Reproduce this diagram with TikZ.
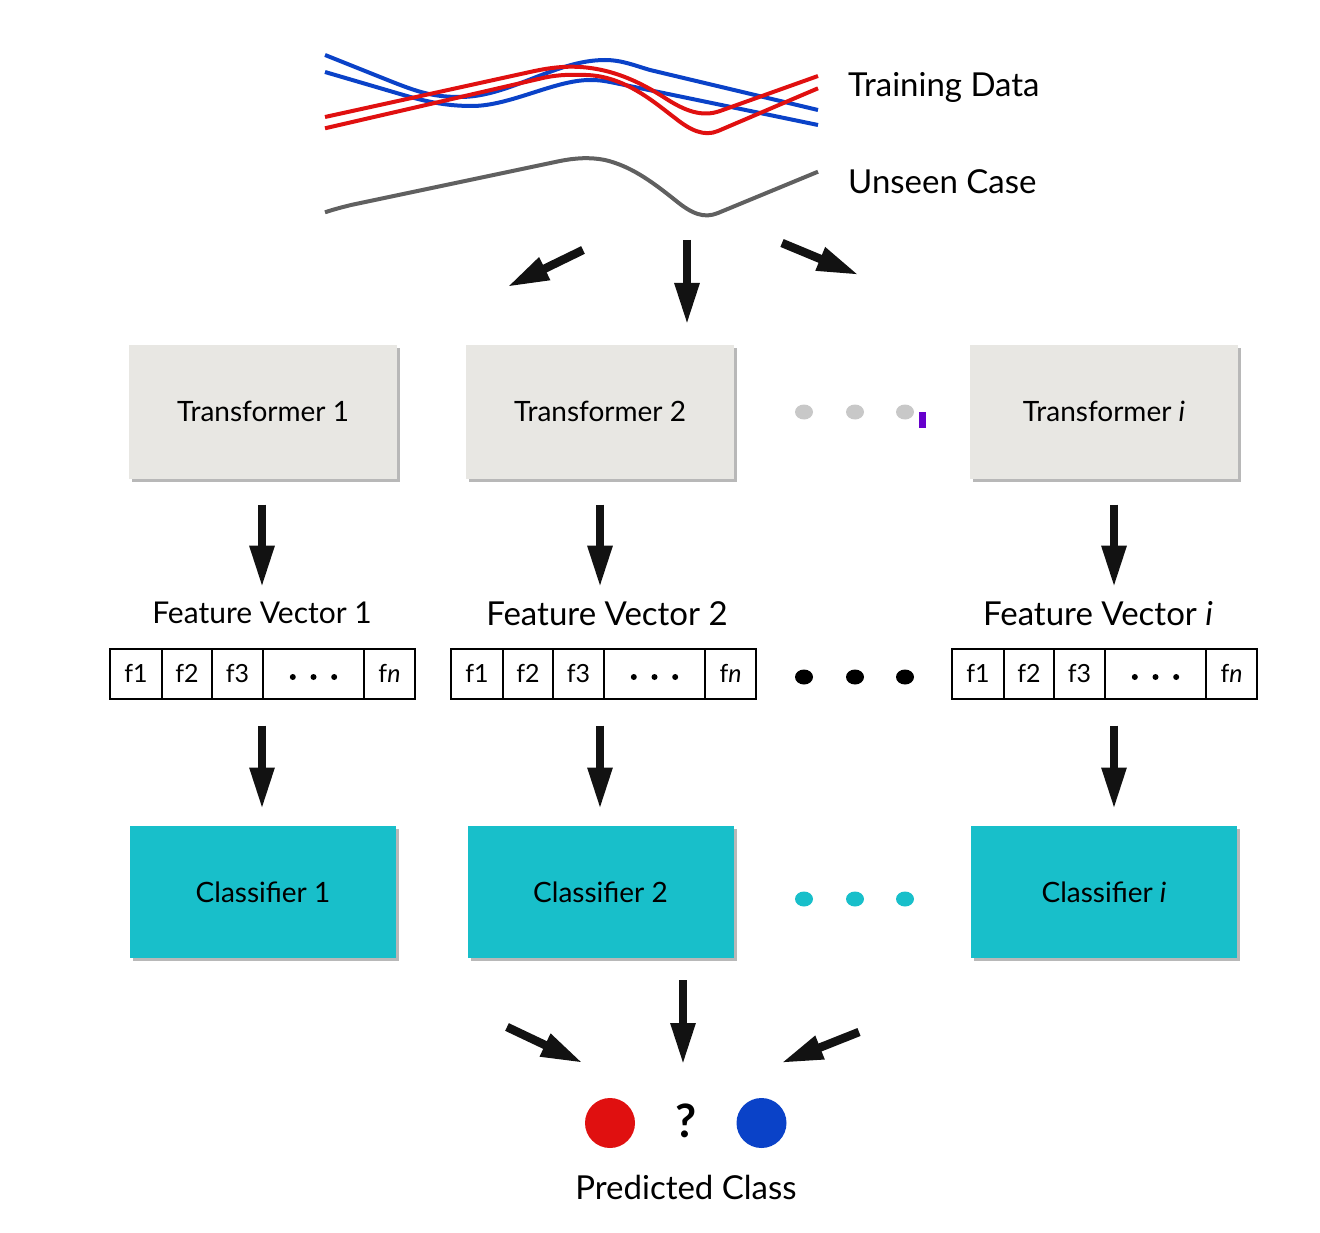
\documentclass[tikz,border=0pt]{standalone}
\usepackage{fontspec}
\setmainfont{Lato}
\usetikzlibrary{arrows.meta,shadows}
\definecolor{tgray}{HTML}{E8E7E3}
\definecolor{ccyan}{HTML}{18BFCA}
\definecolor{lred}{HTML}{E01010}
\definecolor{lblue}{HTML}{0A42C8}
\definecolor{lgray}{HTML}{606060}
\definecolor{dotgray}{HTML}{C8C8C8}
\definecolor{cursor}{HTML}{6600CC}
\newcommand\fvec[2]{%
  \node[cell, minimum width=52pt] (#1c1) at (#2+26,673.5) {f1};
  \node[cell, minimum width=50pt] (#1c2) at (#2+77,673.5) {f2};
  \node[cell, minimum width=51pt] (#1c3) at (#2+127.5,673.5) {f3};
  \node[cell, minimum width=101pt] (#1c4) at (#2+203.5,673.5) {};
  \node[cell, minimum width=51pt] (#1c5) at (#2+279.5,673.5) {f\textit{n}};
  \fill ([xshift=-20.7pt,yshift=-3.5pt]#1c4.center) circle (3pt);
  \fill ([yshift=-3.5pt]#1c4.center) circle (3pt);
  \fill ([xshift=20.7pt,yshift=-3.5pt]#1c4.center) circle (3pt);
}
\begin{document}
\begin{tikzpicture}[x=1pt,y=-1pt,
  tbox/.style={fill=tgray, minimum width=268pt, minimum height=134pt, inner sep=0pt,
    drop shadow={shadow xshift=3pt, shadow yshift=-3pt, fill=black, opacity=0.28},
    font=\fontsize{28}{32}\selectfont},
  cbox/.style={fill=ccyan, minimum width=266pt, minimum height=132pt, inner sep=0pt,
    drop shadow={shadow xshift=3pt, shadow yshift=-3pt, fill=black, opacity=0.28},
    font=\fontsize{28}{32}\selectfont},
  bigarrow/.style={line width=8.5pt, draw=black!93, -{Triangle[length=42pt,width=23pt]}},
  cell/.style={draw, line width=2pt, minimum height=50pt, inner sep=0pt, font=\fontsize{25}{28}\selectfont},
  lab/.style={inner sep=0pt, font=\fontsize{33}{38}\selectfont},
  curve/.style={line width=4pt},
]
\useasboundingbox (0,0) rectangle (1320,1233);

% training curves
\draw[curve, lblue] (325,55) -- (380,77) .. controls (415,91) and (430,97) .. (460,97)
  .. controls (510,97) and (555,60) .. (605,60) .. controls (622,60) and (636,66) .. (650,70) -- (818,110);
\draw[curve, lblue] (325,72) -- (400,94) .. controls (430,103) and (450,106) .. (472,106)
  .. controls (510,106) and (555,80) .. (590,80) .. controls (600,80) and (605,81) .. (615,83) -- (818,125);
\draw[curve, lred] (325,117) -- (530,72) .. controls (548,68) and (560,66.7) .. (572,66.7)
  .. controls (610,67) and (640,82) .. (665,98) .. controls (685,111) and (702,117.4) .. (720,111) -- (818,76);
\draw[curve, lred] (325,128.3) -- (545,77.5) .. controls (560,74.5) and (572,74.5) .. (586,75)
  .. controls (625,76) and (655,103) .. (675,118) .. controls (690,130) and (704,137) .. (718,131) -- (818,88.3);
\draw[curve, lgray] (325,212.3) .. controls (335,209) and (343,207) .. (351,205) -- (560,161)
  .. controls (575,158) and (590,157) .. (605,160) .. controls (630,166) and (650,180) .. (675,200)
  .. controls (692,214) and (704,218.8) .. (718,213) -- (818,171.7);

\node[lab, anchor=west] (td) at (848,87) {Training Data};
\node[lab, anchor=west] (uc) at (848,182) {Unseen Case};

% top arrows
\coordinate (a1s) at (583,250); \coordinate (a1e) at (507,287);
\coordinate (a2s) at (687,240); \coordinate (a2e) at (687,325);
\coordinate (a3s) at (782,243); \coordinate (a3e) at (859,275);
\draw[bigarrow] (a1s) -- (a1e);
\draw[bigarrow] (a2s) -- (a2e);
\draw[bigarrow] (a3s) -- (a3e);

% transformers
\node[tbox] (T1) at (263,411.5) {Transformer 1};
\node[tbox] (T2) at (600,411.5) {Transformer 2};
\node[tbox] (Ti) at (1104,411.5) {Transformer \textit{i}};

\fill[dotgray] (804,412) ellipse [x radius=9pt, y radius=7.5pt];
\fill[dotgray] (855,412) ellipse [x radius=9pt, y radius=7.5pt];
\fill[dotgray] (905,412) ellipse [x radius=9pt, y radius=7.5pt];
\fill[cursor] (918.5,412) rectangle (926,428);

\draw[bigarrow] ([xshift=-1pt,yshift=-26pt]T1.south) -- ([xshift=-1pt,yshift=-109pt]T1.south);
\draw[bigarrow] ([yshift=-26pt]T2.south) -- ([yshift=-109pt]T2.south);
\draw[bigarrow] ([xshift=10pt,yshift=-26pt]Ti.south) -- ([xshift=10pt,yshift=-109pt]Ti.south);

% feature vectors
\node[inner sep=0pt, font=\fontsize{30}{34}\selectfont] (fvl1) at (262,613) {Feature Vector 1};
\node[lab] (fvl2) at (607,614) {Feature Vector 2};
\node[lab] (fvli) at (1098,614) {Feature Vector \textit{i}};
\fvec{v1}{110}
\fvec{v2}{451}
\fvec{vi}{952}

\fill (804,677) ellipse [x radius=9pt, y radius=7.5pt];
\fill (855,677) ellipse [x radius=9pt, y radius=7.5pt];
\fill (905,677) ellipse [x radius=9pt, y radius=7.5pt];

\draw[bigarrow] ([xshift=-1pt,yshift=-26pt]v1c4.south -| T1.south) -- ([xshift=-1pt,yshift=-110pt]v1c4.south -| T1.south);
\draw[bigarrow] ([yshift=-26pt]v2c4.south -| T2.south) -- ([yshift=-110pt]v2c4.south -| T2.south);
\draw[bigarrow] ([xshift=10pt,yshift=-26pt]vic4.south -| Ti.south) -- ([xshift=10pt,yshift=-110pt]vic4.south -| Ti.south);

% classifiers
\node[cbox] (C1) at (263,892) {Classifier 1};
\node[cbox] (C2) at (600.5,892) {Classifier 2};
\node[cbox] (Ci) at (1104,892) {Classifier \textit{i}};

\fill[ccyan] (804,899) ellipse [x radius=9pt, y radius=7.5pt];
\fill[ccyan] (855,899) ellipse [x radius=9pt, y radius=7.5pt];
\fill[ccyan] (905,899) ellipse [x radius=9pt, y radius=7.5pt];

% bottom arrows
\coordinate (b1s) at (507,1027); \coordinate (b1e) at (583,1063);
\coordinate (b2s) at (683,980); \coordinate (b2e) at (683,1065);
\coordinate (b3s) at (859,1032); \coordinate (b3e) at (781,1063);
\draw[bigarrow] (b1s) -- (b1e);
\draw[bigarrow] (b2s) -- (b2e);
\draw[bigarrow] (b3s) -- (b3e);

\node[circle, fill=lred, minimum size=50pt, inner sep=0pt] (red) at (610,1123) {};
\node[circle, fill=lblue, minimum size=50pt, inner sep=0pt] (blue) at (761.5,1123) {};
\node[inner sep=0pt, font=\fontsize{46}{50}\selectfont\bfseries] (q) at (686,1121) {?};
\node[lab] (pc) at (686,1187) {Predicted Class};
\end{tikzpicture}
\end{document}
